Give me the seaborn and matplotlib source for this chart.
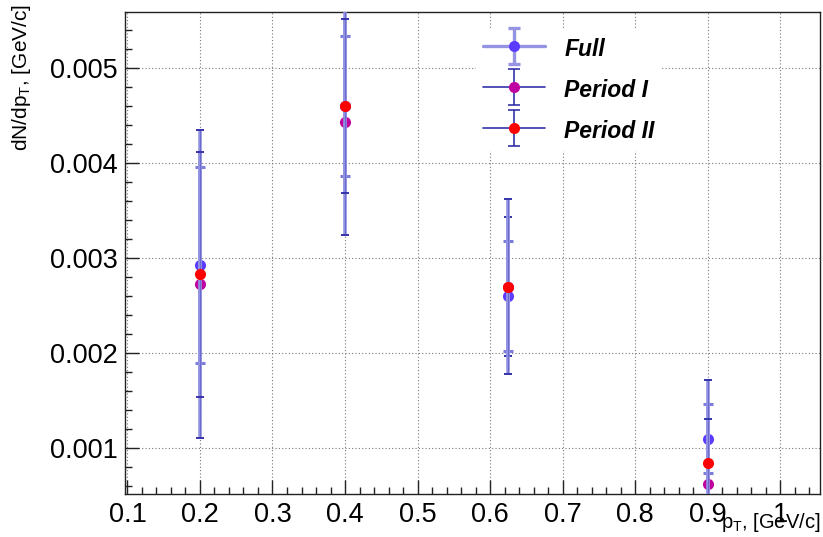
import numpy as np
import pandas as pd
import matplotlib
matplotlib.use("Agg")
import matplotlib.pyplot as plt
import seaborn as sns
from matplotlib.lines import Line2D
from matplotlib.path import Path
from matplotlib.legend_handler import HandlerTuple
from matplotlib.ticker import MultipleLocator, FixedLocator

# transverse-momentum bins and yields
pt = [0.2, 0.4, 0.625, 0.9]
full = [0.00293, 0.00460, 0.00260, 0.00110]
full_err = [0.00103, 0.00074, 0.00058, 0.00036]
period1 = [0.00273, 0.00443, 0.00270, 0.00062]
period1_err = [0.00162, 0.00119, 0.00073, 0.00110]
period2 = [0.00283, 0.00460, 0.00270, 0.00084]
period2_err = [0.00129, 0.00092, 0.00092, 0.00047]

series_names = ["Full", "Period I", "Period II"]
x_ticks = [0.1, 0.2, 0.3, 0.4, 0.5, 0.6, 0.7, 0.8, 0.9, 1.0]
x_tick_labels = ["0.1", "0.2", "0.3", "0.4", "0.5", "0.6", "0.7", "0.8", "0.9", "1"]
y_ticks = [0.001, 0.002, 0.003, 0.004, 0.005]
y_tick_labels = ["0.001", "0.002", "0.003", "0.004", "0.005"]

sns.set_theme(style="ticks")
plt.rcParams["font.family"] = ["Liberation Sans", "DejaVu Sans"]
plt.rcParams["mathtext.fontset"] = "custom"
plt.rcParams["mathtext.rm"] = "Liberation Sans"
plt.rcParams["mathtext.it"] = "Liberation Sans:italic"
plt.rcParams["text.color"] = "black"

W, H = 823, 537
fig = plt.figure(figsize=(W / 100, H / 100), dpi=100)
fig.patch.set_facecolor("white")
L, R, T, B = 125, 820, 12, 494
ax = fig.add_axes([L / W, 1 - B / H, (R - L) / W, (B - T) / H])
ax.set_facecolor("white")

marker_colors = {"Full": "#5b3bff", "Period I": "#c0009f", "Period II": "#ff0000"}
bar_dark = "#3434aa"
bar_light = "#9494e2"

frames = []
for name, vals, errs in [("Full", full, full_err),
                         ("Period I", period1, period1_err),
                         ("Period II", period2, period2_err)]:
    frames.append(pd.DataFrame({"pt": pt, "yield": vals, "err": errs, "series": name}))
df = pd.concat(frames, ignore_index=True)

z = 3
for name in series_names:
    sub = df[df["series"] == name]
    # wide pale stem
    ax.errorbar(sub["pt"], sub["yield"], yerr=sub["err"], fmt="none",
                ecolor=bar_light, elinewidth=2.6, capsize=0, zorder=z)
    if name == "Full":
        ax.errorbar(sub["pt"], sub["yield"], yerr=sub["err"], fmt="none",
                    ecolor="#7c7cdc", elinewidth=0, capsize=3.5, capthick=2.2,
                    zorder=z + 0.5)
    else:
        ax.errorbar(sub["pt"], sub["yield"], yerr=sub["err"], fmt="none",
                    ecolor="#6a6ad0", elinewidth=0.8, capsize=0, zorder=z + 0.3)
        ax.errorbar(sub["pt"], sub["yield"], yerr=sub["err"], fmt="none",
                    ecolor=bar_dark, elinewidth=0, capsize=3.2, capthick=1.4,
                    zorder=z + 0.5)
    sns.scatterplot(data=sub, x="pt", y="yield", color=marker_colors[name],
                    s=64, linewidth=0, ax=ax, zorder=z + 1, legend=False)
    z += 2

ax.set_xlim(0.0966, 1.055)
ax.set_ylim(0.000516, 0.00559)
ax.xaxis.set_major_locator(FixedLocator(x_ticks))
ax.set_xticklabels(x_tick_labels)
ax.xaxis.set_minor_locator(MultipleLocator(0.02))
ax.yaxis.set_major_locator(FixedLocator(y_ticks))
ax.set_yticklabels(y_tick_labels)
ax.yaxis.set_minor_locator(MultipleLocator(0.0002))
ax.set_xlabel("")
ax.set_ylabel("")

ax.tick_params(axis="both", which="major", direction="in", length=10, width=1,
               labelsize=19.5, color="#222222", labelcolor="black")
ax.tick_params(axis="both", which="minor", direction="in", length=5, width=1,
               color="#222222")
ax.tick_params(axis="x", which="both", top=False, pad=6)
ax.tick_params(axis="y", which="both", right=False, pad=5)

ax.grid(True, which="major", color="#777777", linestyle=(0, (1, 2)), linewidth=0.8)
ax.set_axisbelow(True)
for sp in ax.spines.values():
    sp.set_visible(True)
    sp.set_color("#222222")
    sp.set_linewidth(1.0)

# axis titles placed at the ends of the axes
fig.text(R / W, 1 - 522 / H, r"p$_{\mathrm{T}}$, [GeV/c]", ha="right", va="center",
         fontsize=14.5, color="black")
fig.text(22 / W, 1 - 4 / H, r"dN/dp$_{\mathrm{T}}$, [GeV/c]", ha="center", va="top",
         rotation=90, fontsize=15, color="black")

# legend glyphs: horizontal line with marker plus vertical error bar with caps
cap_path = Path([(-0.35, -1), (0.35, -1), (0, -1), (0, 1), (-0.35, 1), (0.35, 1)],
                [Path.MOVETO, Path.LINETO, Path.MOVETO, Path.LINETO, Path.MOVETO, Path.LINETO])
handles = []
for name in series_names:
    c_line = bar_light if name == "Full" else bar_dark
    lw = 2.4 if name == "Full" else 1.2
    bar = Line2D([], [], linestyle="none", marker=cap_path, markersize=26,
                 markeredgecolor=c_line, markerfacecolor="none", markeredgewidth=lw)
    pt_line = Line2D([], [], color=c_line, linewidth=lw, marker="o", markersize=8,
                     markerfacecolor=marker_colors[name], markeredgewidth=0)
    handles.append((bar, pt_line))

leg = ax.legend(handles, series_names, handler_map={tuple: HandlerTuple(ndivide=1)},
                loc="upper left", bbox_to_anchor=(0.505, 0.963), frameon=True,
                fancybox=False, framealpha=1.0, edgecolor="white", facecolor="white",
                prop={"family": "Liberation Sans", "weight": "bold", "style": "italic",
                      "size": 16.5},
                labelcolor="black",
                handlelength=2.7, handleheight=1.2, handletextpad=0.85,
                labelspacing=0.72, borderpad=0.3, borderaxespad=0)
leg.set_zorder(20)

fig.savefig("out.png", dpi=100, facecolor="white")
